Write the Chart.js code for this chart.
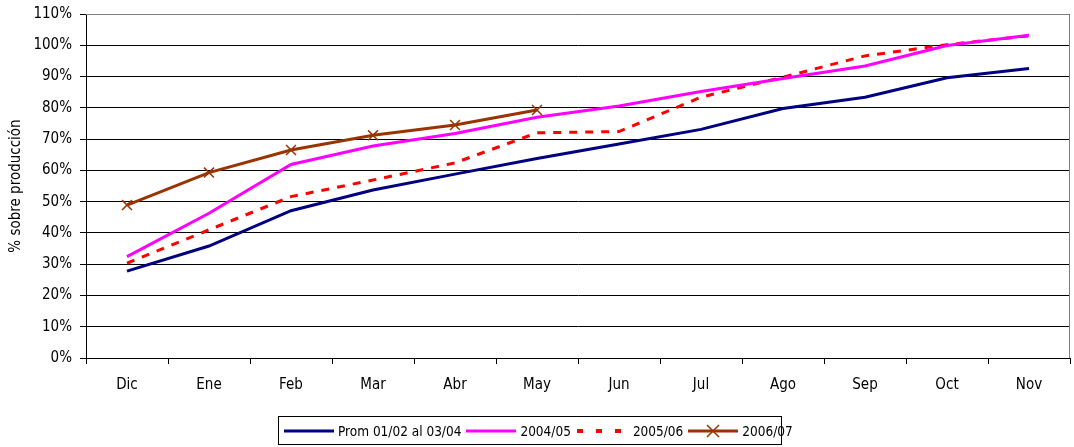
<!DOCTYPE html>
<html>
<head>
<meta charset="utf-8">
<script src="https://cdn.jsdelivr.net/npm/chart.js@4"></script>
<style>
  html, body { margin:0; padding:0; background:#fff; }
  #wrap { position:relative; width:1074px; height:447px; }
  #legend {
    position:absolute; left:278px; top:416px; width:504px; height:29px;
    border:1px solid #000; box-sizing:border-box; display:flex; align-items:center;
    font-family:'Liberation Sans Narrow','Arial Narrow','DejaVu Sans Condensed',sans-serif;
    font-size:13.5px; color:#000; white-space:nowrap;
  }
  #legend .it { display:flex; align-items:center; }
  #legend svg { display:block; }
</style>
</head>
<body>
<div id="wrap">
  <canvas id="chart" width="1074" height="447"></canvas>
  <div id="legend"></div>
</div>
<script>
const FONT = "'Liberation Sans Narrow','Arial Narrow','DejaVu Sans Condensed',sans-serif";

const months = ['Dic','Ene','Feb','Mar','Abr','May','Jun','Jul','Ago','Sep','Oct','Nov'];
const prom0104 = [27.8, 35.8, 47.1, 53.7, 58.8, 63.8, 68.4, 73.1, 79.8, 83.4, 89.6, 92.6];
const s0405    = [32.4, 46.3, 61.9, 67.8, 71.8, 77.0, 80.6, 85.2, 89.4, 93.4, 99.9, 103.2];
const s0506    = [30.3, 41.0, 51.6, 56.9, 62.4, 72.0, 72.4, 83.4, 89.8, 96.6, 100.2, 103.0];
const s0607    = [48.9, 59.3, 66.5, 71.2, 74.5, 79.3, null, null, null, null, null, null];
const yTicks = [0,10,20,30,40,50,60,70,80,90,100,110];

const series = [
  { label:'Prom 01/02 al 03/04', data:prom0104, color:'#000080' },
  { label:'2004/05', data:s0405, color:'#ff00ff' },
  { label:'2005/06', data:s0506, color:'#ff0000', dash:[8,8] },
  { label:'2006/07', data:s0607, color:'#993300', marker:true },
];

// gray frame on top/right of the plot area
const frame = {
  id:'frame',
  afterDraw(chart) {
    const { ctx, chartArea:a } = chart;
    ctx.save();
    ctx.strokeStyle = '#808080';
    ctx.lineWidth = 1;
    ctx.beginPath();
    ctx.moveTo(a.left, a.top + 0.5);
    ctx.lineTo(a.right - 0.5, a.top + 0.5);
    ctx.lineTo(a.right - 0.5, a.bottom);
    ctx.stroke();
    ctx.restore();
  }
};

new Chart(document.getElementById('chart'), {
  type:'line',
  data:{
    labels:months,
    datasets:series.map(s => ({
      label:s.label,
      data:s.data,
      borderColor:s.color,
      backgroundColor:s.color,
      borderWidth:3,
      borderDash:s.dash || [],
      tension:0,
      spanGaps:false,
      pointStyle:'crossRot',
      pointRadius:s.marker ? 7 : 0,
      pointBorderWidth:1.5,
      pointBorderColor:s.color,
    }))
  },
  options:{
    responsive:false,
    animation:false,
    layout:{ autoPadding:false, padding:{ top:14, right:4, left:0, bottom:0 } },
    plugins:{ legend:{ display:false }, tooltip:{ enabled:false } },
    scales:{
      x:{
        offset:true,
        grid:{ drawOnChartArea:false, offset:true, tickLength:6, color:'#000' },
        border:{ color:'#000', width:1 },
        ticks:{ color:'#000', font:{ family:FONT, size:15 }, padding:12, maxRotation:0 },
        afterFit(scale) { scale.height = 89; scale.paddingLeft = 0; scale.paddingRight = 0; }
      },
      y:{
        min:0, max:110,
        afterBuildTicks(scale) { scale.ticks = yTicks.map(v => ({ value:v })); },
        grid:{ color:'#000', lineWidth:1, tickLength:6 },
        border:{ color:'#000', width:1 },
        ticks:{ color:'#000', font:{ family:FONT, size:15 }, padding:8, callback:v => v + '%' },
        title:{ display:true, text:'% sobre producción', color:'#000', font:{ family:FONT, size:15 }, padding:{ top:7, bottom:4 } },
        afterFit(scale) { scale.width = 86; scale.paddingTop = 0; scale.paddingBottom = 0; }
      }
    }
  },
  plugins:[frame]
});

// legend box
const legend = document.getElementById('legend');
legend.innerHTML = series.map((s, i) => {
  const line = s.dash
    ? `<line x1="2" y1="7" x2="46" y2="7" stroke="${s.color}" stroke-width="4" stroke-dasharray="6,13"/>`
    : `<line x1="1" y1="7" x2="51" y2="7" stroke="${s.color}" stroke-width="3"/>`;
  const mark = s.marker
    ? `<path d="M20 1 L32 13 M32 1 L20 13" stroke="${s.color}" stroke-width="1.5"/>` : '';
  const gap = s.dash ? 6 : 3;
  return `<span class="it" style="margin-left:${i === 0 ? 4 : 0}px"><svg width="52" height="14">${line}${mark}</svg>` +
         `<span style="margin-left:${gap}px;margin-right:4px">${s.label}</span></span>`;
}).join('');
</script>
</body>
</html>
